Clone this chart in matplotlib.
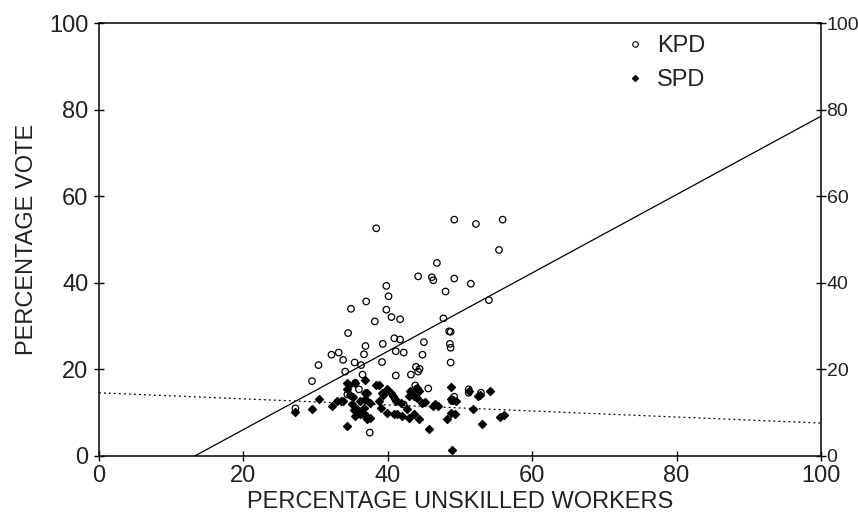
import matplotlib
matplotlib.use("Agg")
import matplotlib.pyplot as plt
from matplotlib.lines import Line2D
import numpy as np

plt.rcParams["font.family"] = ["Liberation Sans", "DejaVu Sans"]

# KPD vote share (open circles)
kpd_x = [38.4, 44.2, 39.8, 40.1, 37.0, 34.9, 39.8, 40.5, 41.7, 38.2, 34.5, 49.2, 52.2, 55.9,
         55.4, 46.8, 46.1, 46.3, 49.2, 51.5, 48.0, 54.0, 47.7, 48.5, 48.7, 45.0, 48.6, 48.7,
         44.8, 48.7, 43.9, 44.4, 44.2, 40.9, 41.7, 39.3, 36.9, 41.1, 42.2, 36.7, 32.2, 33.2,
         33.8, 35.4, 36.3, 39.2, 30.4, 34.1, 29.5, 41.1, 36.5, 35.5, 27.2, 34.4, 36.0, 42.2,
         37.5, 36.9, 43.8, 44.0, 45.6, 49.2, 51.2, 51.2, 52.9, 48.9, 43.2]
kpd_y = [52.6, 41.5, 39.3, 36.9, 35.7, 34.0, 33.8, 32.1, 31.6, 31.1, 28.4, 54.6, 53.6, 54.6,
         47.6, 44.6, 41.3, 40.6, 41.0, 39.8, 38.0, 36.0, 31.8, 28.8, 28.7, 26.3, 25.9, 25.0,
         23.4, 21.6, 20.6, 20.1, 19.5, 27.2, 26.9, 25.9, 25.4, 24.2, 23.9, 23.5, 23.4, 23.9,
         22.2, 21.6, 21.0, 21.7, 21.0, 19.5, 17.3, 18.6, 18.8, 16.9, 11.0, 14.2, 15.4, 11.9,
         5.4, 9.4, 16.3, 15.5, 15.6, 13.7, 14.6, 15.4, 14.6, 12.7, 18.8]

# SPD vote share (filled diamonds)
spd_x = [27.2, 29.5, 30.4, 32.3, 33.5, 33.8, 34.3, 34.4, 34.6, 34.4, 35.5, 36.9, 33.0, 34.8,
         35.2, 36.9, 38.3, 38.8, 39.2, 39.4, 39.9, 40.4, 40.7, 41.0, 41.1, 39.0, 35.1, 35.8,
         36.4, 35.4, 36.2, 36.9, 37.1, 36.7, 37.5, 37.5, 35.3, 36.2, 36.9, 37.1, 38.8, 39.9,
         41.3, 42.0, 42.7, 42.9, 41.8, 42.9, 43.1, 40.8, 44.1, 44.3, 43.6, 44.1, 44.8, 45.2,
         43.6, 44.3, 45.7, 46.5, 46.9, 46.2, 48.8, 48.7, 49.0, 49.4, 48.8, 49.3, 48.2, 51.2,
         51.8, 52.5, 52.8, 54.1, 53.1, 48.9, 55.6, 56.1]
spd_y = [10.2, 10.8, 13.1, 11.5, 12.7, 12.7, 6.9, 16.9, 16.5, 15.5, 16.9, 17.5, 12.7, 14.2,
         13.7, 14.6, 16.5, 16.3, 14.6, 14.2, 15.4, 14.6, 13.8, 13.2, 12.7, 11.1, 12.0, 10.8,
         9.9, 9.2, 9.6, 9.2, 8.5, 11.1, 12.3, 8.8, 10.6, 12.7, 13.1, 14.6, 12.7, 10.0,
         9.6, 9.2, 10.8, 8.8, 12.3, 13.8, 15.0, 9.6, 15.8, 15.0, 13.8, 13.5, 12.3, 12.5,
         9.6, 8.5, 6.3, 11.9, 11.5, 11.5, 16.0, 13.1, 12.9, 12.7, 10.0, 9.8, 8.6, 15.0,
         10.8, 13.8, 14.2, 15.0, 7.5, 1.4, 9.1, 9.4]

# fitted lines: (slope, intercept)
kpd_fit = (0.905, -12.0)
spd_fit = (-0.07, 14.6)

ticks = [0, 20, 40, 60, 80, 100]
txt = "#222222"

fig = plt.figure(figsize=(8.58, 5.26), dpi=100)
ax = fig.add_axes([0.1154, 0.1331, 0.8415, 0.8229])

xs = np.array([0, 100])
ax.plot(xs, kpd_fit[0] * xs + kpd_fit[1], color="black", lw=0.9)
ax.plot(xs, spd_fit[0] * xs + spd_fit[1], color="black", lw=0.9, ls=(0, (1.5, 2.5)))

ax.scatter(kpd_x, kpd_y, s=22, facecolors="none", edgecolors="black", linewidths=0.9, zorder=3)
ax.scatter(spd_x, spd_y, s=16, marker="D", color="black", zorder=4)

ax.set_xlim(0, 100)
ax.set_ylim(0, 100)
ax.set_xticks(ticks)
ax.set_yticks(ticks)
for s in ax.spines.values():
    s.set_linewidth(1.1)
ax.tick_params(direction="inout", length=7, width=1.0, labelsize=17, pad=3,
               labelcolor=txt, top=False)
ax.tick_params(axis="y", right=True, labelright=True)
# right-hand labels sit tight against the frame edge
for t in ax.yaxis.get_major_ticks():
    t.label2.set_fontsize(14)
    t.label2.set_x(1.0)
ax.yaxis.set_tick_params(which="major", pad=4)
for t in ax.yaxis.get_major_ticks():
    t.label2.set_transform(ax.get_yaxis_transform(which="tick2")
                           + matplotlib.transforms.ScaledTranslation(4 / 72, 0, fig.dpi_scale_trans))
ax.set_xlabel("PERCENTAGE UNSKILLED WORKERS", fontsize=17, color=txt, labelpad=3)
ax.set_ylabel("PERCENTAGE VOTE", fontsize=17, color=txt, labelpad=8)

handles = [
    Line2D([], [], ls="none", marker="o", markersize=4, markerfacecolor="none",
           markeredgecolor="black", markeredgewidth=0.8, label="KPD"),
    Line2D([], [], ls="none", marker="D", markersize=3, color="black", label="SPD"),
]
leg = ax.legend(handles=handles, loc="upper left", bbox_to_anchor=(0.7255, 0.972), frameon=False,
                fontsize=17, handlelength=1.0, handletextpad=0.45, labelspacing=0.5,
                borderpad=0, borderaxespad=0)
for t in leg.get_texts():
    t.set_color(txt)

fig.savefig("out.png", dpi=100)
